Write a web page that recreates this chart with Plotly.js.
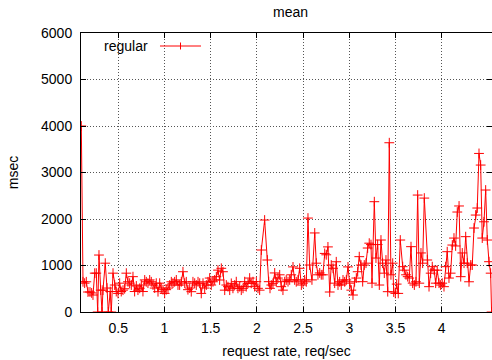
<!DOCTYPE html>
<html>
<head>
<meta charset="utf-8">
<script src="https://cdn.plot.ly/plotly-3.0.1.min.js"></script>
<style>
  html, body { margin: 0; padding: 0; background: #fff; }
  #chart { width: 492px; height: 360px; }
</style>
</head>
<body>
<div id="chart"></div>
<script>
// Mean response time per request rate
const seriesName = 'regular';

const rate = [
  0.100, 0.118, 0.136, 0.154, 0.172, 0.194, 0.212, 0.226, 0.245, 0.262,
  0.277, 0.291, 0.310, 0.324, 0.334, 0.359, 0.378, 0.392, 0.413, 0.424,
  0.443, 0.461, 0.478, 0.497, 0.515, 0.532, 0.551, 0.569, 0.587, 0.605,
  0.623, 0.641, 0.659, 0.677, 0.695, 0.713, 0.732, 0.749, 0.767, 0.786,
  0.803,
  0.821, 0.840, 0.857, 0.876, 0.894, 0.911, 0.930, 0.948, 0.965, 0.984,
  1.002, 1.019, 1.038, 1.056, 1.074, 1.092, 1.110, 1.128, 1.146, 1.164,
  1.182, 1.200, 1.219, 1.236, 1.254, 1.273, 1.290, 1.308, 1.327, 1.344,
  1.363, 1.381, 1.398, 1.417, 1.435, 1.453, 1.471, 1.489, 1.506, 1.525,
  1.543, 1.561, 1.579,
  1.597, 1.615, 1.633, 1.652, 1.669, 1.687, 1.706, 1.723, 1.741, 1.760,
  1.777, 1.795, 1.814, 1.831, 1.850, 1.868, 1.885, 1.904, 1.922, 1.939,
  1.958, 1.976, 1.994, 2.012, 2.030, 2.048, 2.084, 2.113, 2.128, 2.142,
  2.156, 2.174, 2.193, 2.210, 2.228, 2.247, 2.264, 2.282, 2.301, 2.318,
  2.337,
  2.355, 2.372, 2.391, 2.409, 2.426, 2.445, 2.463, 2.481, 2.499, 2.517,
  2.535, 2.553, 2.571, 2.596, 2.626, 2.643, 2.661, 2.680, 2.697, 2.715,
  2.734, 2.751, 2.769, 2.788, 2.805, 2.824, 2.842, 2.859, 2.878, 2.896,
  2.913, 2.932, 2.950, 2.968, 2.986, 3.004, 3.022, 3.040, 3.058, 3.076,
  3.091, 3.108, 3.127, 3.145, 3.162, 3.181, 3.199, 3.216, 3.235, 3.246,
  3.271, 3.289, 3.307, 3.325, 3.343, 3.361, 3.379, 3.397, 3.416, 3.433,
  3.451, 3.470, 3.481, 3.498, 3.513, 3.530, 3.552, 3.578, 3.595, 3.614,
  3.632, 3.649, 3.668, 3.686, 3.704, 3.722, 3.740, 3.758, 3.776, 3.794,
  3.812,
  3.844, 3.863, 3.881, 3.898, 3.919, 3.935, 3.952, 3.971, 3.989, 4.006,
  4.025, 4.043, 4.060, 4.079, 4.097, 4.115, 4.133, 4.151, 4.169, 4.188,
  4.206, 4.223, 4.242, 4.260, 4.277, 4.296, 4.314, 4.331, 4.350, 4.368,
  4.385, 4.404, 4.422, 4.439, 4.458, 4.476, 4.494, 4.512, 4.530, 4.540
];

const meanMs = [
  4000, 650, 620, 650, 430, 430, 410, 365, 835, 835,
  0, 1225, 470, 0, 470, 1050, 515, 0, 440, 0,
  835, 580, 440, 400, 620, 440, 470, 500, 835, 650,
  620, 580, 760, 440, 560, 470, 510, 580, 440, 690,
  650,
  620, 690, 650, 580, 515, 620, 437, 620, 515, 480,
  400, 480, 515, 580, 650, 620, 650, 690, 580, 580,
  650, 866, 620, 650, 480, 515, 437, 650, 620, 580,
  650, 620, 400, 620, 515, 580, 650, 730, 580, 650,
  690, 760, 900,
  688, 940, 866, 470, 580, 545, 470, 616, 509, 580,
  652, 509, 545, 470, 509, 652, 545, 616, 730, 616,
  652, 545, 652, 509, 470, 1333, 1978, 1118, 652, 509,
  580, 616, 840, 652, 730, 800, 545, 470, 652, 688,
  652,
  690, 800, 970, 690, 650, 690, 940, 580, 620, 690,
  650, 2020, 1010, 690, 1700, 1050, 800, 840, 800, 800,
  1260, 1230, 1400, 430, 1010, 940, 620, 1080, 580, 650,
  580, 690, 650, 690, 970, 620, 470, 365, 650, 730,
  866, 1190, 1010, 652, 1010, 1050, 1376, 1480, 1450, 620,
  2372, 1160, 1450, 580, 1548, 1050, 835, 1118, 437, 3640,
  800, 1050, 430, 400, 600, 400, 1548, 975, 900, 800,
  760, 730, 1405, 620, 580, 650, 2515, 620, 1270, 1050,
  2450,
  1118, 545, 835, 975, 900, 620, 900, 620, 580, 620,
  545, 975, 1297, 730, 835, 1440, 1590, 1420, 2150, 2280,
  760, 1270, 1050, 1620, 1050, 650, 1010, 1010, 1806, 2085,
  2236, 3410, 3160, 1590, 1940, 2623, 1548, 1082, 835, 0
];

const xTickVals = [0.5, 1, 1.5, 2, 2.5, 3, 3.5, 4];
const xTickText = ['0.5', '1', '1.5', '2', '2.5', '3', '3.5', '4'];
const yTickVals = [0, 1000, 2000, 3000, 4000, 5000, 6000];

const red = '#ff0000';
const font = { family: 'Liberation Sans, Arial, Helvetica, sans-serif', size: 14, color: '#000' };

const trace = {
  type: 'scatter',
  mode: 'lines+markers',
  name: seriesName,
  x: rate,
  y: meanMs,
  line: { color: red, width: 1 },
  marker: { symbol: 'cross-thin', size: 7, color: red, line: { width: 1, color: red } },
  showlegend: false
};

const gridColor = '#555';
const axisCommon = {
  showline: true,
  linecolor: '#000',
  linewidth: 1,
  mirror: 'ticks',
  ticks: 'inside',
  ticklen: 5,
  tickcolor: '#000',
  showgrid: true,
  gridcolor: gridColor,
  gridwidth: 1,
  griddash: '1px,2px',
  zeroline: false,
  tickfont: font
};

// Key in the upper left: label text with the line/point sample to its right
const keyY = 0.9534;
const layout = {
  width: 492,
  height: 360,
  margin: { l: 81, r: 0, t: 33, b: 48 },
  paper_bgcolor: '#fff',
  plot_bgcolor: '#fff',
  font: font,
  title: {
    text: 'mean',
    font: font,
    xref: 'paper', x: 0.51, xanchor: 'center',
    yref: 'container', y: 0.967, yanchor: 'middle'
  },
  xaxis: Object.assign({}, axisCommon, {
    range: [0.0965, 4.5446],
    tickmode: 'array',
    tickvals: xTickVals,
    ticktext: xTickText,
    ticklabelstandoff: 3,
    title: { text: 'request rate, req/sec', font: font, standoff: 11 }
  }),
  yaxis: Object.assign({}, axisCommon, {
    range: [0, 6000],
    tickmode: 'array',
    tickvals: yTickVals,
    ticktext: yTickVals.map(String),
    ticklabelstandoff: 5,
    title: { text: 'msec', font: font, standoff: 19 }
  }),
  annotations: [
    {
      text: seriesName, font: font, showarrow: false,
      xref: 'paper', yref: 'paper', x: 0.168, y: keyY,
      xanchor: 'right', yanchor: 'middle'
    }
  ],
  shapes: [
    { type: 'line', xref: 'paper', yref: 'paper', x0: 0.1922, x1: 0.292, y0: keyY, y1: keyY,
      line: { color: red, width: 1 } },
    { type: 'line', xref: 'paper', yref: 'paper', x0: 0.2421, x1: 0.2421, y0: keyY - 0.0125, y1: keyY + 0.0125,
      line: { color: red, width: 1 } }
  ]
};

Plotly.newPlot('chart', [trace], layout, { displayModeBar: false, staticPlot: true });
</script>
</body>
</html>
